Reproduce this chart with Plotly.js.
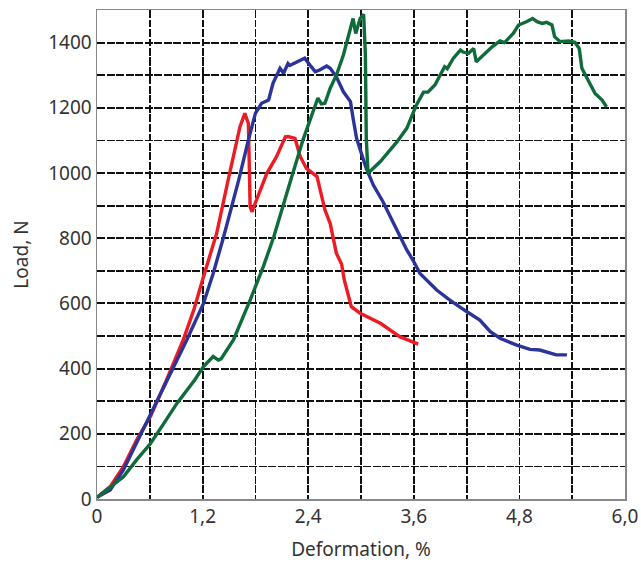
<!DOCTYPE html>
<html><head><meta charset="utf-8">
<script src="https://cdn.plot.ly/plotly-3.0.1.min.js"></script>
<style>body{margin:0;padding:0;background:#fff}#chart{width:641px;height:565px}</style>
</head><body><div id="chart"></div>
<script>
const redX = [0, 0.15, 0.3, 0.45, 0.61, 0.79, 0.98, 1.1, 1.21, 1.36, 1.49, 1.55, 1.625, 1.68, 1.72, 1.73, 1.74, 1.76, 1.81, 1.93, 2.04, 2.14, 2.17, 2.25, 2.31, 2.38, 2.5, 2.53, 2.59, 2.65, 2.72, 2.78, 2.81, 2.89, 2.99, 3.22, 3.44, 3.65];
const redY = [5, 38, 99, 181, 255, 365, 488, 580, 682, 815, 978, 1050, 1142, 1183, 1152, 1030, 897, 881, 917, 999, 1050, 1111, 1112, 1106, 1050, 1014, 989, 958, 887, 845, 754, 720, 672, 590, 570, 539, 498, 475];

const blueX = [0, 0.15, 0.3, 0.45, 0.61, 0.76, 0.91, 1.02, 1.21, 1.32, 1.44, 1.55, 1.61, 1.72, 1.8, 1.87, 1.95, 2.0, 2.08, 2.12, 2.17, 2.19, 2.27, 2.36, 2.42, 2.48, 2.53, 2.61, 2.65, 2.72, 2.8, 2.88, 2.91, 2.95, 3.01, 3.06, 3.14, 3.25, 3.37, 3.52, 3.59, 3.67, 3.86, 4.01, 4.2, 4.35, 4.47, 4.58, 4.77, 4.92, 5.03, 5.15, 5.22, 5.34];
const blueY = [5, 28, 89, 171, 258, 340, 425, 488, 600, 692, 805, 917, 978, 1101, 1183, 1214, 1224, 1275, 1321, 1306, 1336, 1330, 1341, 1352, 1331, 1311, 1316, 1328, 1321, 1295, 1249, 1219, 1168, 1106, 1055, 1014, 963, 912, 846, 764, 733, 692, 641, 610, 575, 549, 513, 493, 472, 459, 457, 447, 442, 442];

const greenX = [0, 0.15, 0.3, 0.45, 0.61, 0.76, 0.91, 1.11, 1.21, 1.32, 1.38, 1.41, 1.55, 1.74, 1.89, 2.01, 2.14, 2.19, 2.34, 2.5, 2.51, 2.55, 2.59, 2.65, 2.72, 2.8, 2.88, 2.91, 2.94, 2.99, 3.03, 3.05, 3.06, 3.08, 3.22, 3.41, 3.52, 3.63, 3.71, 3.76, 3.84, 3.95, 3.98, 4.05, 4.13, 4.16, 4.22, 4.28, 4.31, 4.39, 4.49, 4.58, 4.63, 4.73, 4.79, 4.88, 4.95, 5.0, 5.06, 5.11, 5.17, 5.2, 5.26, 5.36, 5.43, 5.48, 5.51, 5.56, 5.66, 5.74, 5.79];
const greenY = [5, 38, 68, 120, 171, 232, 294, 365, 406, 437, 426, 430, 488, 610, 713, 805, 917, 968, 1101, 1224, 1230, 1212, 1214, 1260, 1300, 1362, 1444, 1474, 1428, 1474, 1487, 1362, 1106, 999, 1035, 1096, 1137, 1209, 1248, 1248, 1270, 1326, 1320, 1352, 1377, 1371, 1367, 1382, 1341, 1362, 1387, 1405, 1400, 1428, 1454, 1464, 1474, 1464, 1459, 1462, 1454, 1418, 1403, 1405, 1401, 1382, 1321, 1295, 1244, 1224, 1203];

const xTickVals = [0, 0.6, 1.2, 1.8, 2.4, 3.0, 3.6, 4.2, 4.8, 5.4, 6.0];
const xTickText = ["0", "", "1,2", "", "2,4", "", "3,6", "", "4,8", "", "6,0"];
const yTickVals = [0, 100, 200, 300, 400, 500, 600, 700, 800, 900, 1000, 1100, 1200, 1300, 1400, 1500];
const yTickText = ["0", "", "200", "", "400", "", "600", "", "800", "", "1000", "", "1200", "", "1400", ""];

const lineW = 3.4;
const traces = [
  {x: redX, y: redY, mode: 'lines', line: {color: '#ec1c24', width: lineW}},
  {x: blueX, y: blueY, mode: 'lines', line: {color: '#2b3499', width: lineW}},
  {x: greenX, y: greenY, mode: 'lines', line: {color: '#0f6b3a', width: lineW}}
];
const font = {family: '"Noto Sans", "Open Sans", sans-serif', size: 19, color: '#333'};
const gridStyle = {showgrid: true, gridcolor: '#111', gridwidth: 1.8, griddash: '8px,1.5px'};
const layout = {
  width: 641, height: 565,
  margin: {l: 97, r: 16, t: 10, b: 66},
  showlegend: false,
  paper_bgcolor: '#fff', plot_bgcolor: '#fff',
  font: font,
  xaxis: Object.assign({
    range: [0, 6], tickvals: xTickVals, ticktext: xTickText,
    zeroline: false, showline: true, linecolor: '#888', linewidth: 1.5, mirror: true,
    ticks: '', tickfont: font,
    title: {text: 'Deformation, %', font: font, standoff: 14}
  }, gridStyle),
  yaxis: Object.assign({
    range: [0, 1500], tickvals: yTickVals, ticktext: yTickText,
    zeroline: false, showline: true, linecolor: '#888', linewidth: 1.5, mirror: true,
    ticks: '', tickfont: font,
    title: {text: 'Load, N', font: font, standoff: 14}
  }, gridStyle)
};
Plotly.newPlot('chart', traces, layout, {displayModeBar: false, staticPlot: true});
</script></body></html>
